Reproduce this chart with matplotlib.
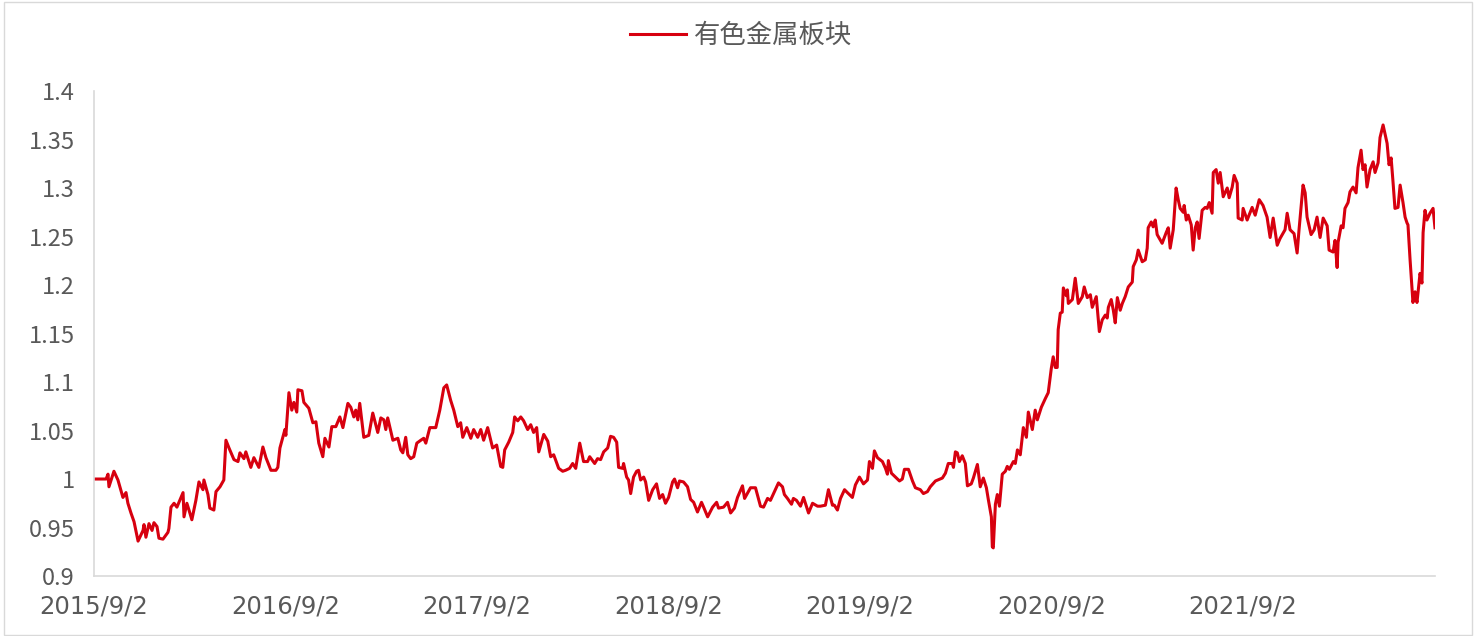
import matplotlib
matplotlib.use("Agg")
import matplotlib.pyplot as plt
from matplotlib.patches import Rectangle

plt.rcParams['font.family'] = ['Noto Sans CJK SC', 'DejaVu Sans']

# temps en annees depuis 2015/9/2, valeur de l'indice (base 1)
t = [0, 0.063, 0.073, 0.078, 0.104, 0.125, 0.151, 0.167, 0.177, 0.193,
     0.209, 0.230, 0.256, 0.261, 0.271, 0.287, 0.303, 0.313, 0.329, 0.339,
     0.360, 0.386, 0.391, 0.402, 0.418, 0.433, 0.454, 0.465, 0.470, 0.485,
     0.496, 0.511, 0.532, 0.548, 0.569, 0.574, 0.595, 0.605, 0.626, 0.637,
     0.658, 0.678, 0.689, 0.705, 0.731, 0.752, 0.762, 0.783, 0.793, 0.819,
     0.835, 0.861, 0.882, 0.898, 0.924, 0.950, 0.960, 0.971, 0.997, 1.002,
     1.018, 1.033, 1.044, 1.059, 1.065, 1.086, 1.096, 1.122, 1.143, 1.159,
     1.174, 1.195, 1.206, 1.227, 1.242, 1.263, 1.284, 1.300, 1.326, 1.341,
     1.357, 1.367, 1.378, 1.388, 1.409, 1.435, 1.456, 1.482, 1.498, 1.514,
     1.524, 1.534, 1.561, 1.587, 1.602, 1.613, 1.628, 1.639, 1.654, 1.670,
     1.686, 1.707, 1.722, 1.733, 1.754, 1.785, 1.806, 1.827, 1.842, 1.863,
     1.879, 1.900, 1.915, 1.926, 1.947, 1.968, 1.983, 2.004, 2.020, 2.035,
     2.056, 2.072, 2.082, 2.103, 2.124, 2.135, 2.145, 2.166, 2.187, 2.197,
     2.213, 2.229, 2.244, 2.265, 2.281, 2.296, 2.312, 2.323, 2.349, 2.370,
     2.385, 2.401, 2.427, 2.448, 2.463, 2.484, 2.500, 2.516, 2.537, 2.557,
     2.578, 2.589, 2.615, 2.630, 2.646, 2.662, 2.683, 2.698, 2.714, 2.730,
     2.740, 2.761, 2.766, 2.782, 2.792, 2.803, 2.818, 2.834, 2.844, 2.855,
     2.871, 2.881, 2.897, 2.918, 2.938, 2.954, 2.970, 2.985, 3.001, 3.022,
     3.032, 3.048, 3.058, 3.079, 3.100, 3.116, 3.132, 3.152, 3.173, 3.184,
     3.205, 3.231, 3.252, 3.262, 3.288, 3.309, 3.325, 3.345, 3.361, 3.387,
     3.398, 3.429, 3.455, 3.481, 3.497, 3.518, 3.533, 3.559, 3.575, 3.596,
     3.606, 3.622, 3.643, 3.653, 3.669, 3.690, 3.706, 3.732, 3.753, 3.779,
     3.794, 3.820, 3.836, 3.857, 3.867, 3.883, 3.899, 3.920, 3.935, 3.961,
     3.977, 3.998, 4.019, 4.040, 4.050, 4.066, 4.076, 4.092, 4.118, 4.134,
     4.144, 4.149, 4.165, 4.186, 4.207, 4.222, 4.233, 4.254, 4.275, 4.290,
     4.316, 4.332, 4.353, 4.368, 4.395, 4.431, 4.447, 4.462, 4.483, 4.489,
     4.499, 4.509, 4.520, 4.535, 4.551, 4.562, 4.582, 4.593, 4.614, 4.629,
     4.645, 4.661, 4.671, 4.687, 4.692, 4.697, 4.708, 4.718, 4.729, 4.744,
     4.760, 4.770, 4.781, 4.802, 4.812, 4.823, 4.838, 4.854, 4.870, 4.880,
     4.901, 4.916, 4.927, 4.948, 4.969, 4.984, 5.000, 5.010, 5.021, 5.031,
     5.036, 5.047, 5.057, 5.063, 5.078, 5.084, 5.089, 5.110, 5.125, 5.141,
     5.162, 5.172, 5.188, 5.204, 5.214, 5.235, 5.251, 5.266, 5.282, 5.292,
     5.298, 5.313, 5.324, 5.334, 5.345, 5.360, 5.371, 5.386, 5.402, 5.423,
     5.428, 5.444, 5.454, 5.475, 5.491, 5.501, 5.506, 5.522, 5.532, 5.543,
     5.553, 5.579, 5.600, 5.611, 5.621, 5.637, 5.652, 5.663, 5.673, 5.689,
     5.694, 5.705, 5.715, 5.731, 5.741, 5.752, 5.762, 5.772, 5.788, 5.804,
     5.814, 5.825, 5.840, 5.846, 5.861, 5.872, 5.882, 5.898, 5.919, 5.929,
     5.945, 5.955, 5.971, 5.976, 5.997, 6.002, 6.023, 6.049, 6.065, 6.086,
     6.106, 6.127, 6.143, 6.159, 6.180, 6.195, 6.221, 6.232, 6.247, 6.268,
     6.284, 6.294, 6.315, 6.326, 6.336, 6.357, 6.373, 6.388, 6.404, 6.420,
     6.441, 6.451, 6.472, 6.482, 6.493, 6.498, 6.514, 6.524, 6.534, 6.550,
     6.560, 6.576, 6.592, 6.602, 6.618, 6.628, 6.639, 6.649, 6.665, 6.681,
     6.691, 6.707, 6.717, 6.733, 6.754, 6.764, 6.775, 6.785, 6.795, 6.811,
     6.822, 6.837, 6.848, 6.858, 6.863, 6.874, 6.889, 6.900, 6.910, 6.926,
     6.936, 6.942, 6.952, 6.962, 6.978, 6.994, 7.004]

valeurs = [1.000, 1.000, 1.005, 0.992, 1.008, 0.999, 0.981, 0.986, 0.975, 0.965,
           0.956, 0.936, 0.947, 0.953, 0.940, 0.954, 0.947, 0.955, 0.951, 0.939,
           0.938, 0.945, 0.949, 0.971, 0.975, 0.971, 0.981, 0.986, 0.961, 0.975,
           0.968, 0.958, 0.978, 0.997, 0.989, 0.999, 0.984, 0.970, 0.968, 0.987,
           0.992, 0.999, 1.040, 1.032, 1.020, 1.018, 1.027, 1.021, 1.028, 1.012,
           1.022, 1.012, 1.033, 1.022, 1.009, 1.009, 1.012, 1.032, 1.051, 1.045,
           1.089, 1.071, 1.079, 1.069, 1.092, 1.091, 1.079, 1.073, 1.058, 1.059,
           1.037, 1.023, 1.042, 1.033, 1.054, 1.054, 1.064, 1.053, 1.078, 1.074,
           1.064, 1.071, 1.061, 1.078, 1.043, 1.045, 1.068, 1.048, 1.063, 1.061,
           1.051, 1.063, 1.040, 1.042, 1.030, 1.027, 1.043, 1.025, 1.021, 1.023,
           1.037, 1.040, 1.042, 1.037, 1.053, 1.053, 1.071, 1.094, 1.097, 1.081,
           1.071, 1.054, 1.058, 1.043, 1.053, 1.042, 1.051, 1.043, 1.051, 1.040,
           1.053, 1.040, 1.032, 1.035, 1.013, 1.012, 1.030, 1.038, 1.048, 1.064,
           1.060, 1.064, 1.060, 1.051, 1.056, 1.048, 1.053, 1.028, 1.046, 1.039,
           1.023, 1.025, 1.011, 1.008, 1.009, 1.011, 1.016, 1.011, 1.037, 1.018,
           1.018, 1.023, 1.016, 1.021, 1.020, 1.028, 1.032, 1.044, 1.043, 1.038,
           1.012, 1.011, 1.016, 1.002, 0.999, 0.985, 1.002, 1.008, 1.009, 0.999,
           1.002, 0.997, 0.978, 0.989, 0.995, 0.980, 0.984, 0.975, 0.981, 0.997,
           1.000, 0.991, 0.998, 0.997, 0.992, 0.979, 0.976, 0.966, 0.976, 0.971,
           0.961, 0.971, 0.976, 0.970, 0.971, 0.976, 0.965, 0.970, 0.981, 0.993,
           0.980, 0.991, 0.991, 0.972, 0.971, 0.980, 0.978, 0.989, 0.996, 0.992,
           0.984, 0.980, 0.974, 0.980, 0.978, 0.972, 0.981, 0.965, 0.975, 0.972,
           0.972, 0.973, 0.989, 0.973, 0.973, 0.968, 0.980, 0.989, 0.986, 0.981,
           0.994, 1.002, 0.995, 0.999, 1.018, 1.011, 1.029, 1.022, 1.018, 1.011,
           1.005, 1.019, 1.006, 1.002, 0.998, 1.000, 1.010, 1.010, 0.998, 0.991,
           0.989, 0.985, 0.987, 0.992, 0.998, 1.001, 1.006, 1.016, 1.016, 1.012,
           1.028, 1.027, 1.018, 1.024, 1.016, 0.993, 0.995, 1.001, 1.015, 0.992,
           1.001, 0.991, 0.979, 0.961, 0.930, 0.929, 0.974, 0.984, 0.972, 1.005,
           1.008, 1.013, 1.010, 1.018, 1.016, 1.030, 1.025, 1.053, 1.043, 1.069,
           1.051, 1.071, 1.061, 1.074, 1.083, 1.089, 1.114, 1.126, 1.115, 1.115,
           1.154, 1.171, 1.172, 1.197, 1.189, 1.195, 1.181, 1.185, 1.207, 1.181,
           1.188, 1.198, 1.187, 1.190, 1.177, 1.188, 1.152, 1.164, 1.169, 1.166,
           1.177, 1.185, 1.174, 1.161, 1.187, 1.174, 1.181, 1.188, 1.198, 1.203,
           1.219, 1.226, 1.236, 1.224, 1.226, 1.238, 1.259, 1.265, 1.260, 1.267,
           1.252, 1.243, 1.254, 1.259, 1.238, 1.257, 1.300, 1.288, 1.279, 1.275,
           1.282, 1.267, 1.272, 1.262, 1.236, 1.259, 1.265, 1.248, 1.277, 1.280,
           1.279, 1.285, 1.274, 1.316, 1.319, 1.305, 1.316, 1.291, 1.300, 1.290,
           1.301, 1.313, 1.305, 1.269, 1.267, 1.279, 1.267, 1.280, 1.272, 1.288,
           1.282, 1.270, 1.249, 1.269, 1.241, 1.248, 1.257, 1.274, 1.257, 1.253,
           1.233, 1.257, 1.303, 1.295, 1.270, 1.252, 1.257, 1.270, 1.249, 1.269,
           1.261, 1.236, 1.234, 1.246, 1.218, 1.244, 1.261, 1.259, 1.279, 1.285,
           1.296, 1.301, 1.295, 1.321, 1.339, 1.319, 1.324, 1.301, 1.319, 1.327,
           1.316, 1.326, 1.352, 1.365, 1.346, 1.324, 1.331, 1.306, 1.279, 1.280,
           1.303, 1.285, 1.270, 1.264, 1.262, 1.226, 1.182, 1.193, 1.182, 1.212,
           1.202, 1.254, 1.277, 1.267, 1.274, 1.279, 1.259]

ticks_annees = [0, 1, 2, 3, 4, 5, 6]
etiquettes_x = ["2015/9/2", "2016/9/2", "2017/9/2", "2018/9/2",
                "2019/9/2", "2020/9/2", "2021/9/2"]
ticks_y = [0.9, 0.95, 1.0, 1.05, 1.1, 1.15, 1.2, 1.25, 1.3, 1.35, 1.4]
etiquettes_y = ["0.9", "0.95", "1", "1.05", "1.1", "1.15", "1.2", "1.25",
                "1.3", "1.35", "1.4"]

gris = "#595959"

fig = plt.figure(figsize=(14.76, 6.36), dpi=100)
ax = fig.add_axes([0.0637, 0.0943, 0.9085, 0.7626])

ax.plot(t, valeurs, color="#d7000f", linewidth=2.2, label="有色金属板块")

ax.set_xlim(0, t[-1])
ax.set_ylim(0.9, 1.4)
ax.set_xticks(ticks_annees)
ax.set_xticklabels(etiquettes_x, family="DejaVu Sans", fontsize=17.5)
ax.set_yticks(ticks_y)
ax.set_yticklabels(etiquettes_y, fontsize=17)
ax.tick_params(axis="both", length=0, colors=gris)
ax.tick_params(axis="x", pad=13)
ax.tick_params(axis="y", pad=14)

for s in ["top", "right"]:
    ax.spines[s].set_visible(False)
for s in ["left", "bottom"]:
    ax.spines[s].set_color("#d9d9d9")
    ax.spines[s].set_linewidth(1.2)

leg = fig.legend(loc="center", bbox_to_anchor=(0.502, 0.944), frameon=False,
                 fontsize=19, handlelength=2.1, handletextpad=0.3)
for txt in leg.get_texts():
    txt.set_color(gris)

# cadre autour de la figure
fig.patches.append(Rectangle((0.003, 0.002), 0.994, 0.995, transform=fig.transFigure,
                             fill=False, edgecolor="#d9d9d9", linewidth=1.0))

plt.savefig("out.png", dpi=100)
